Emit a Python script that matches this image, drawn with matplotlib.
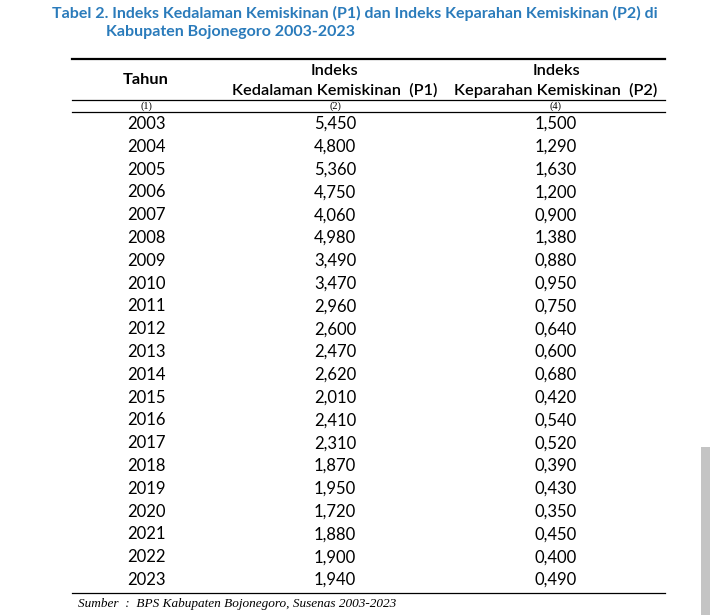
import matplotlib
matplotlib.use("Agg")
import matplotlib.pyplot as plt
from matplotlib.patches import Rectangle

years = list(range(2003, 2024))
p1 = [5.450, 4.800, 5.360, 4.750, 4.060, 4.980, 3.490, 3.470, 2.960, 2.600, 2.470,
      2.620, 2.010, 2.410, 2.310, 1.870, 1.950, 1.720, 1.880, 1.900, 1.940]
p2 = [1.500, 1.290, 1.630, 1.200, 0.900, 1.380, 0.880, 0.950, 0.750, 0.640, 0.600,
      0.680, 0.420, 0.540, 0.520, 0.390, 0.430, 0.350, 0.450, 0.400, 0.490]
col_numbers = ["(1)", "(2)", "(4)"]
title_lines = [
    "Tabel 2. Indeks Kedalaman Kemiskinan (P1) dan Indeks Keparahan Kemiskinan (P2) di",
    "Kabupaten Bojonegoro 2003-2023",
]
source = "Sumber  :  BPS Kabupaten Bojonegoro, Susenas 2003-2023"


def fmt(v):
    return f"{v:.3f}".replace(".", ",")


W, H = 719, 615
fig = plt.figure(figsize=(W / 100, H / 100), dpi=100)
ax = fig.add_axes([0, 0, 1, 1])
ax.set_xlim(0, W)
ax.set_ylim(H, 0)
ax.axis("off")

sans = "Lato"
blue = "#2a7bbb"
body = 12

ax.text(52, 13, title_lines[0], fontsize=11.5, fontweight="bold", color=blue,
        family=sans, va="center", ha="left")
ax.text(106, 32, title_lines[1], fontsize=11.5, fontweight="bold", color=blue,
        family=sans, va="center", ha="left")

x0, x1 = 72, 665
cols = [146, 335, 556]

ax.plot([x0, x1], [59, 59], color="black", lw=1.6)
ax.plot([x0, x1], [100, 100], color="black", lw=0.9)
ax.plot([x0, x1], [112, 112], color="black", lw=0.9)
ax.plot([x0, x1], [593, 593], color="black", lw=0.9)

ax.text(cols[0], 80, "Tahun", fontsize=11.8, fontweight="bold", family=sans,
        ha="center", va="center")
ax.text(cols[1], 71, "Indeks", fontsize=11.8, fontweight="semibold", family=sans,
        ha="center", va="center")
ax.text(cols[1], 90, "Kedalaman Kemiskinan  (P1)", fontsize=11.8,
        fontweight="semibold", family=sans, ha="center", va="center")
ax.text(cols[2], 71, "Indeks", fontsize=11.8, fontweight="semibold", family=sans,
        ha="center", va="center")
ax.text(cols[2], 90, "Keparahan Kemiskinan  (P2)", fontsize=11.8,
        fontweight="semibold", family=sans, ha="center", va="center")

for cx, lab in zip(cols, col_numbers):
    ax.text(cx, 106, lab, fontsize=7.5, family="Liberation Serif", ha="center",
            va="center")

row0, step = 124, (580 - 124) / 20
for i, (yr, a, b) in enumerate(zip(years, p1, p2)):
    y = row0 + i * step
    ax.text(cols[0], y, str(yr), fontsize=body, family=sans, ha="center", va="center")
    ax.text(cols[1], y, fmt(a), fontsize=body, family=sans, ha="center", va="center")
    ax.text(cols[2], y, fmt(b), fontsize=body, family=sans, ha="center", va="center")

ax.text(78, 604, source, fontsize=9.5, family="Liberation Serif", style="italic",
        ha="left", va="center")

# scrollbar from the screenshot
ax.add_patch(Rectangle((701, 447), 9, 168, color="#c4c4c4", lw=0))

fig.savefig("out.png", dpi=100)
